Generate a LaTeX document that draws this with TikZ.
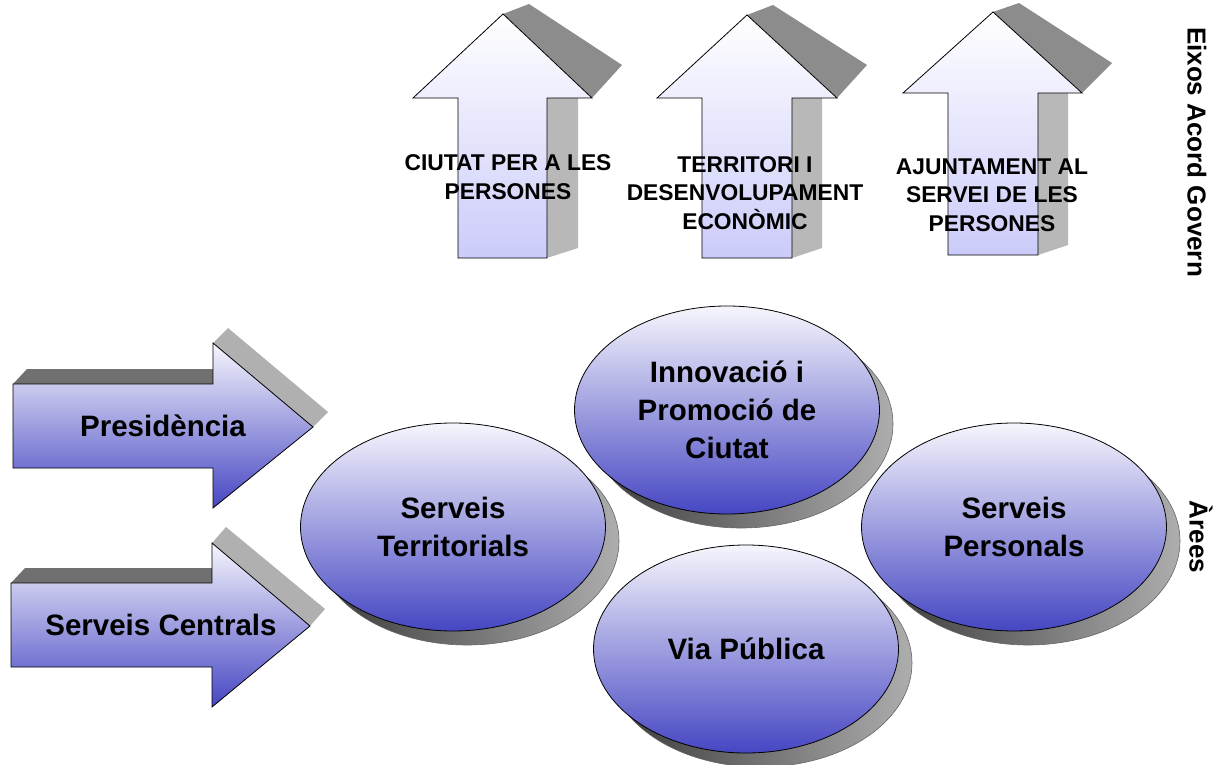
\documentclass[tikz,border=0pt]{standalone}
\usepackage{fontspec}
\setmainfont{Liberation Sans}
\usepackage{tikz}
\usetikzlibrary{shapes.geometric}

\definecolor{areatop}{HTML}{F6F6FD}
\definecolor{areabottom}{HTML}{4646C3}
\definecolor{eixbottom}{HTML}{CBCBFA}

\begin{document}
\begin{tikzpicture}[x=1pt,y=-1pt,
    area/.style={ellipse,draw=black,line width=0.8pt,top color=areatop,bottom color=areabottom,
        minimum width=305pt,minimum height=208pt,inner sep=0pt,align=center,
        font=\fontsize{29.5}{38}\selectfont\bfseries},
    areadepth/.style={draw=black!60,line width=0.6pt,left color=black!78,right color=black!32},
    eixarrow/.style={draw=black,line width=0.8pt,top color=white,bottom color=eixbottom},
    eixtop/.style={fill=black!45},
    eixside/.style={fill=black!28},
    unitarrow/.style={draw=black,line width=0.8pt,top color=areatop,bottom color=areabottom},
    unittop/.style={fill=black!56},
    unitside/.style={fill=black!31},
    eixlabel/.style={align=center,font=\fontsize{22.8}{28.5}\selectfont\bfseries},
    unitlabel/.style={font=\fontsize{29.5}{34}\selectfont\bfseries},
    sidelabel/.style={rotate=-90,font=\fontsize{26}{30}\selectfont\bfseries}]
    \useasboundingbox (0,0) rectangle (1223,765);

    \fill[eixtop] (503,14) -- (529,4) -- (622,65) -- (592,98) -- cycle;
    \fill[eixside] (547,98) -- (578,98) -- (578,248) -- (547,258) -- cycle;
    \draw[eixarrow] (458,258) -- (458,98) -- (413,98) -- (503,14) -- (592,98) -- (547,98) -- (547,258) -- cycle;

    \fill[eixtop] (747,15) -- (773,5) -- (867,65) -- (837,98) -- cycle;
    \fill[eixside] (792,98) -- (822,98) -- (822,248) -- (792,258) -- cycle;
    \draw[eixarrow] (702,258) -- (702,98) -- (657,98) -- (747,15) -- (837,98) -- (792,98) -- (792,258) -- cycle;

    \fill[eixtop] (993,12) -- (1019,3) -- (1112,63) -- (1082,93) -- cycle;
    \fill[eixside] (1038,93) -- (1068,93) -- (1068,245) -- (1038,255) -- cycle;
    \draw[eixarrow] (948,255) -- (948,93) -- (903,93) -- (993,12) -- (1082,93) -- (1038,93) -- (1038,255) -- cycle;

    \node[eixlabel] (ciutat) at (508,177) {CIUTAT PER A LES\\PERSONES};
    \node[eixlabel] (territori) at (745,193) {TERRITORI I\\DESENVOLUPAMENT\\ECONÒMIC};
    \node[eixlabel] (ajuntament) at (992,195) {AJUNTAMENT AL\\SERVEI DE LES\\PERSONES};

    \fill[unittop] (13,384) -- (27,369) -- (213,369) -- (213,384) -- cycle;
    \fill[unitside] (213,343) -- (228,328) -- (328,412) -- (313,427) -- cycle;
    \draw[unitarrow] (13,384) -- (213,384) -- (213,343) -- (313,427) -- (213,508) -- (213,468) -- (13,468) -- cycle;

    \fill[unittop] (11,583) -- (25,568) -- (212,568) -- (212,583) -- cycle;
    \fill[unitside] (212,543) -- (226,527) -- (325,609) -- (310,626) -- cycle;
    \draw[unitarrow] (11,583) -- (212,583) -- (212,543) -- (310,626) -- (212,707) -- (212,667) -- (11,667) -- cycle;

    \node[unitlabel] (presidencia) at (163,426) {Presidència};
    \node[unitlabel] (centrals) at (161,625) {Serveis Centrals};

    \draw[areadepth] (467,541) ellipse [x radius=152,y radius=104];
    \node[area] (territorials) at (453,527) {Serveis\\Territorials};

    \draw[areadepth] (741,424) ellipse [x radius=152,y radius=104];
    \node[area] (innovacio) at (727,410) {Innovació i\\Promoció de\\Ciutat};

    \draw[areadepth] (760,663) ellipse [x radius=152,y radius=104];
    \node[area] (viapublica) at (746,649) {Via Pública};

    \draw[areadepth] (1028,541) ellipse [x radius=152,y radius=104];
    \node[area] (personals) at (1014,527) {Serveis\\Personals};

    \node[sidelabel] (eixos) at (1197,152) {Eixos Acord Govern};
    \node[sidelabel] (arees) at (1201,537) {Àrees};
\end{tikzpicture}
\end{document}
